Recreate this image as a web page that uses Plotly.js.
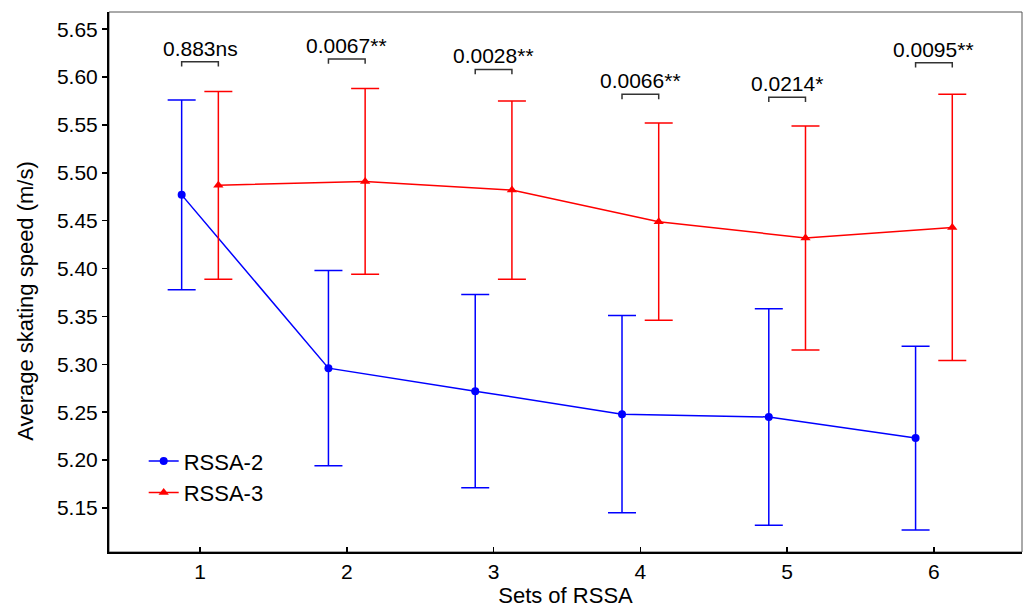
<!DOCTYPE html>
<html>
<head>
<meta charset="utf-8">
<script src="https://cdn.plot.ly/plotly-3.0.1.min.js"></script>
<style>html,body{margin:0;padding:0;background:#fff;}#chart{width:1027px;height:608px;}</style>
</head>
<body>
<div id="chart"></div>
<script>
// ---- data ----
var sets = [1, 2, 3, 4, 5, 6];
var rssa2Mean = [5.477, 5.296, 5.272, 5.248, 5.245, 5.223];
var rssa2SD   = [0.099, 0.102, 0.101, 0.103, 0.113, 0.096];
var rssa3Mean = [5.487, 5.491, 5.482, 5.449, 5.432, 5.443];
var rssa3SD   = [0.098, 0.097, 0.093, 0.103, 0.117, 0.139];
var pLabels   = ["0.883ns", "0.0067**", "0.0028**", "0.0066**", "0.0214*", "0.0095**"];
var bracketY  = [5.616, 5.619, 5.608, 5.582, 5.579, 5.615];
var yTicks    = [5.15, 5.20, 5.25, 5.30, 5.35, 5.40, 5.45, 5.50, 5.55, 5.60, 5.65];

var dodge = 0.125;
var drop = 0.005;
var blue = "#0000FF", red = "#FF0000";
var FONT = "Liberation Sans, Arial, sans-serif";

var x2 = sets.map(function(s){ return s - dodge; });
var x3 = sets.map(function(s){ return s + dodge; });

var traces = [
  {
    x: x2, y: rssa2Mean, name: "RSSA-2", type: "scatter", mode: "lines+markers",
    line: {color: blue, width: 1.5},
    marker: {color: blue, size: 8, symbol: "circle"},
    error_y: {type: "data", array: rssa2SD, visible: true, color: blue, thickness: 1.5, width: 14},
    legendgroup: "a"
  },
  {
    x: x3, y: rssa3Mean, name: "RSSA-3", type: "scatter", mode: "lines+markers",
    line: {color: red, width: 1.5},
    marker: {color: red, size: 9, symbol: "triangle-up"},
    error_y: {type: "data", array: rssa3SD, visible: true, color: red, thickness: 1.5, width: 14},
    legendgroup: "b"
  }
];

var annotations = [];
sets.forEach(function(s, i){
  var y = bracketY[i];
  traces.push({
    x: [s - dodge, s - dodge, s + dodge, s + dodge],
    y: [y - drop, y, y, y - drop],
    type: "scatter", mode: "lines",
    line: {color: "#333333", width: 1.5},
    showlegend: false, hoverinfo: "skip"
  });
  annotations.push({
    x: s, y: y, xref: "x", yref: "y",
    text: pLabels[i], showarrow: false,
    yanchor: "bottom", yshift: 0,
    font: {family: FONT, size: 21, color: "#000"}
  });
});

// y-axis title (placed as in the reference, slightly below the plot centre)
annotations.push({
  xref: "paper", yref: "paper", x: -0.091, y: 0.465,
  xanchor: "center", yanchor: "middle", textangle: -90,
  text: "Average skating speed (m/s)", showarrow: false,
  font: {family: FONT, size: 22, color: "#000"}
});

var layout = {
  width: 1027, height: 608,
  margin: {l: 109, r: 5, t: 12, b: 56},
  paper_bgcolor: "#fff", plot_bgcolor: "#fff",
  showlegend: true,
  legend: {
    x: 0.038, y: 0.207, xanchor: "left", yanchor: "top",
    bgcolor: "rgba(0,0,0,0)", font: {family: FONT, size: 22, color: "#000"},
    traceorder: "grouped", tracegroupgap: 0
  },
  xaxis: {
    range: [0.38, 6.6],
    tickvals: sets, ticktext: sets.map(String),
    ticks: "inside", ticklen: 5, tickwidth: 1.5, tickcolor: "#000",
    showline: true, linecolor: "#000", linewidth: 2,
    showgrid: false, zeroline: false,
    tickfont: {family: FONT, size: 21, color: "#000"},
    title: {text: "Sets of RSSA", font: {family: FONT, size: 22, color: "#000"}, standoff: 5}
  },
  yaxis: {
    range: [5.104, 5.668],
    tickvals: yTicks,
    ticktext: yTicks.map(function(v){ return v.toFixed(2); }),
    ticks: "outside", ticklen: 5, tickwidth: 1.5, tickcolor: "#000",
    showline: true, linecolor: "#000", linewidth: 2,
    showgrid: false, zeroline: false,
    tickfont: {family: FONT, size: 21, color: "#000"}
  },
  shapes: [{
    type: "rect", xref: "paper", yref: "paper", x0: 0, x1: 1, y0: 0, y1: 1,
    line: {color: "#555", width: 1}, layer: "below"
  }],
  annotations: annotations
};

Plotly.newPlot("chart", traces, layout, {displayModeBar: false, staticPlot: true});
</script>
</body>
</html>
